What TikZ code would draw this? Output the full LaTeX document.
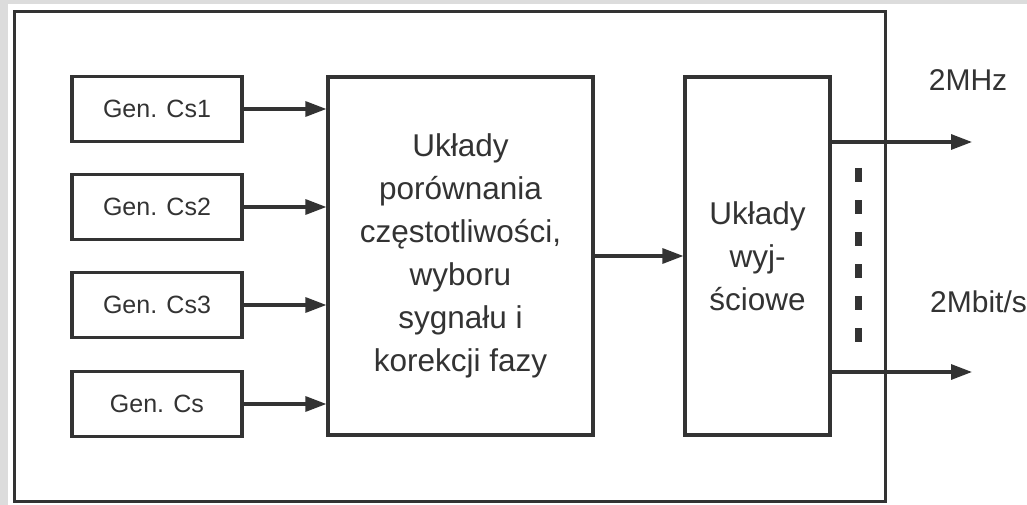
\documentclass[tikz,border=0pt]{standalone}
\usepackage{fontspec}
\setmainfont{Liberation Sans}
\usetikzlibrary{arrows.meta}
\definecolor{ink}{HTML}{333333}
\definecolor{frame}{HTML}{DCDCDC}
\tikzset{
  box/.style={draw=ink, line width=3.2pt, rectangle, inner sep=0pt, text=ink, align=center},
  genbox/.style={box, minimum width=170pt, minimum height=65pt, font=\fontsize{25}{28}\selectfont},
  bigtext/.style={font=\fontsize{31.5}{43}\selectfont},
  conn/.style={draw=ink, line width=3.2pt, -{Triangle[length=21pt,width=15pt]}},
  lbl/.style={text=ink, font=\fontsize{30}{34}\selectfont, inner sep=0pt}
}
\begin{document}
\begin{tikzpicture}[x=1pt,y=-1pt]
\fill[frame] (0,0) rectangle (1027,505);
\fill[white] (8,4) rectangle (1027,505);
\useasboundingbox (0,0) rectangle (1027,505);
% outer frame
\node[draw=ink, line width=3pt, rectangle, inner sep=0pt, minimum width=871pt, minimum height=489pt] (outer) at (449.5,256.5) {};
% generator boxes
\node[genbox] (g1) at (157,109) {Gen. Cs1};
\node[genbox] (g2) at (157,207) {Gen. Cs2};
\node[genbox] (g3) at (157,305) {Gen. Cs3};
\node[genbox] (g4) at (157,404) {Gen. Cs};
% main block
\node[box, bigtext, minimum width=265pt, minimum height=358pt] (cmp) at (460.5,256) {Układy\\porównania\\częstotliwości,\\wyboru\\sygnału i\\korekcji fazy};
% output block
\node[box, bigtext, minimum width=145pt, minimum height=358pt] (out) at (757.5,256) {Układy\\wyj-\\ściowe};
% connectors
\draw[conn] (g1.east) -- (g1.east -| cmp.west);
\draw[conn] (g2.east) -- (g2.east -| cmp.west);
\draw[conn] (g3.east) -- (g3.east -| cmp.west);
\draw[conn] (g4.east) -- (g4.east -| cmp.west);
\draw[conn] (cmp.east) -- (out.west);
\coordinate (o1) at (972,142);
\coordinate (o2) at (972,372);
\draw[conn] (out.east |- o1) -- (o1);
\draw[conn] (out.east |- o2) -- (o2);
% dotted marker between outputs
\coordinate (d1) at (858,168);
\coordinate (d2) at (858,342);
\draw[ink, line width=7pt, dash pattern=on 14pt off 18pt] (d1) -- (d2);
% labels
\node[lbl] (l1) at (968,80) {2MHz};
\node[lbl, anchor=west] (l2) at (930,302) {2Mbit/s};
\end{tikzpicture}
\end{document}
